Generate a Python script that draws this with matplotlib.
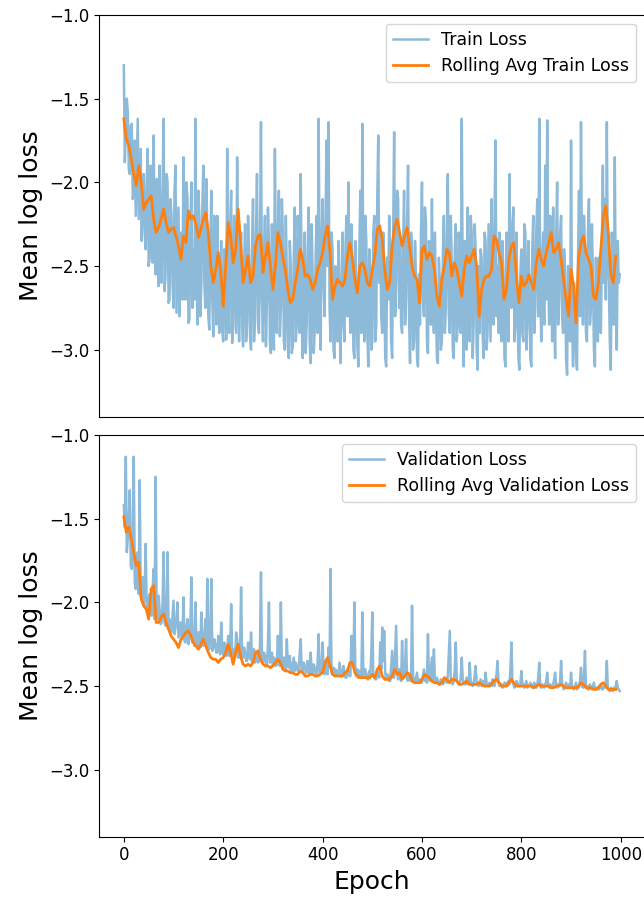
import numpy as np
import matplotlib
matplotlib.use('Agg')
import matplotlib.pyplot as plt

train_loss = [
    -1.30, -1.88, -1.72, -1.50, -1.58, -1.92, -1.95, -1.66, -1.65, -2.10, -2.05, -1.75, -2.20, -1.92, -1.62, -2.22, -2.00, -1.80, -2.35, -2.05,
    -1.95, -2.30, -2.40, -2.00, -1.80, -2.50, -2.45, -1.90, -2.10, -2.48, -1.72, -2.35, -2.55, -1.98, -2.25, -2.62, -1.90, -2.40, -2.60, -2.05,
    -1.62, -2.65, -2.55, -1.95, -2.00, -2.72, -2.70, -2.10, -2.20, -2.60, -2.75, -2.05, -1.90, -2.78, -2.45, -2.15, -2.80, -2.40, -2.30, -2.70,
    -1.85, -2.55, -2.70, -2.00, -2.10, -2.84, -2.82, -2.25, -2.00, -2.75, -2.40, -2.70, -1.62, -2.45, -2.85, -2.05, -2.20, -2.80, -2.60, -2.15,
    -1.90, -2.60, -2.75, -1.98, -2.30, -2.80, -2.88, -2.40, -2.05, -2.70, -2.92, -2.20, -2.45, -2.85, -2.20, -2.65, -2.90, -2.55, -2.35, -2.88,
    -2.95, -2.40, -2.60, -2.94, -1.80, -2.70, -2.90, -2.25, -2.05, -2.96, -2.85, -2.20, -2.55, -2.90, -1.85, -2.60, -2.95, -2.45, -2.30, -2.85,
    -2.98, -2.50, -2.25, -2.95, -2.85, -2.20, -2.45, -2.92, -3.00, -2.40, -2.10, -2.95, -2.80, -2.30, -1.95, -2.85, -2.90, -2.35, -1.64, -2.70,
    -2.95, -2.45, -2.20, -2.98, -2.70, -2.15, -2.35, -2.96, -3.02, -2.25, -2.60, -3.00, -1.80, -2.50, -2.90, -2.30, -2.05, -2.92, -2.75, -2.10,
    -2.30, -2.95, -3.00, -2.20, -2.55, -2.98, -3.05, -2.35, -2.50, -3.02, -2.98, -2.45, -2.15, -2.95, -2.85, -2.20, -2.40, -2.90, -1.95, -2.70,
    -3.05, -2.60, -2.30, -3.02, -2.85, -2.40, -2.15, -2.95, -3.08, -2.25, -2.55, -3.02, -2.90, -2.45, -2.20, -2.90, -1.62, -2.50, -3.00, -2.35,
    -2.10, -2.60, -2.80, -2.20, -1.75, -2.50, -1.64, -2.75, -2.95, -2.30, -2.40, -3.00, -3.05, -2.50, -2.70, -2.95, -2.35, -2.80, -3.08, -2.60,
    -2.30, -2.85, -2.95, -2.40, -2.20, -2.80, -2.00, -2.70, -2.90, -2.25, -2.45, -3.00, -3.05, -2.35, -2.60, -2.98, -3.10, -2.40, -2.05, -2.90,
    -1.65, -2.55, -2.95, -2.20, -2.35, -2.90, -3.10, -2.40, -2.55, -3.00, -2.95, -2.30, -2.20, -2.95, -2.85, -2.10, -1.72, -2.60, -2.30, -2.80,
    -2.90, -2.30, -2.50, -3.05, -3.10, -2.45, -2.70, -2.20, -2.40, -2.95, -3.05, -2.30, -1.70, -2.80, -2.60, -2.05, -2.10, -2.75, -2.35, -2.85,
    -2.90, -2.40, -2.05, -2.85, -2.70, -2.25, -1.90, -2.80, -3.08, -2.30, -2.40, -3.00, -2.95, -2.35, -2.60, -3.05, -3.10, -2.55, -2.85, -2.30,
    -2.00, -2.70, -2.80, -2.15, -2.25, -2.95, -3.02, -2.35, -2.40, -2.85, -2.10, -2.75, -2.90, -2.30, -2.70, -3.05, -3.08, -2.45, -2.60, -3.00,
    -2.95, -2.45, -2.20, -2.90, -2.75, -2.30, -1.95, -2.80, -2.90, -2.20, -2.50, -3.00, -3.05, -2.40, -2.25, -2.95, -2.85, -2.30, -2.45, -2.90,
    -1.62, -2.60, -3.10, -2.35, -2.55, -3.00, -2.15, -2.75, -2.95, -2.20, -2.30, -3.05, -2.85, -2.25, -2.40, -3.00, -3.12, -2.50, -2.90, -2.40,
    -2.45, -2.90, -3.05, -2.30, -2.35, -3.00, -2.90, -2.25, -2.60, -2.95, -2.10, -2.70, -2.85, -2.20, -1.75, -2.80, -2.50, -2.90, -2.30, -2.85,
    -2.95, -2.35, -2.55, -3.05, -3.10, -2.30, -2.40, -2.95, -1.95, -2.60, -2.75, -2.25, -2.15, -2.95, -2.85, -2.30, -2.70, -3.05, -3.12, -2.55,
    -2.40, -2.90, -2.95, -2.25, -2.30, -3.00, -2.85, -2.35, -2.60, -3.05, -3.10, -2.40, -2.20, -2.90, -2.75, -2.30, -2.10, -2.80, -1.62, -2.60,
    -2.95, -2.45, -2.30, -2.85, -1.90, -2.70, -1.63, -2.55, -2.85, -2.20, -2.50, -2.95, -2.15, -2.80, -3.05, -2.35, -2.00, -2.85, -2.70, -2.30,
    -2.20, -2.80, -2.90, -2.40, -2.55, -3.05, -3.15, -2.50, -2.80, -2.95, -1.75, -2.85, -3.10, -2.60, -2.90, -3.05, -3.12, -2.45, -2.05, -2.80,
    -1.64, -2.50, -2.85, -2.20, -2.40, -2.90, -2.95, -2.30, -2.10, -2.85, -2.75, -2.25, -2.55, -3.00, -3.10, -2.45, -2.80, -2.95, -2.45, -2.85,
    -2.90, -2.40, -1.90, -2.60, -2.10, -2.70, -1.64, -2.50, -2.60, -2.95, -3.12, -2.30, -2.45, -2.85, -1.85, -2.70, -3.00, -2.35, -2.60, -2.55,
]

val_loss = [
    -1.42, -1.55, -1.13, -1.70, -1.62, -1.50, -1.33, -1.78, -1.80, -1.60, -1.13, -1.88, -1.92, -1.75, -1.70, -1.95, -1.27, -1.96, -1.98, -1.85,
    -2.02, -1.90, -1.65, -2.04, -2.05, -1.98, -1.95, -2.07, -2.08, -1.92, -1.80, -2.10, -1.25, -2.06, -2.10, -1.96, -2.05, -2.13, -2.12, -2.00,
    -1.70, -2.12, -2.14, -2.05, -1.70, -2.16, -2.10, -2.17, -2.18, -2.08, -1.99, -2.19, -2.15, -2.10, -2.00, -2.21, -2.20, -2.12, -2.17, -2.22,
    -1.97, -2.23, -2.24, -2.15, -2.10, -2.25, -2.22, -2.12, -1.85, -2.24, -2.20, -2.26, -2.00, -2.22, -2.26, -2.18, -2.18, -2.27, -2.06, -2.25,
    -2.26, -2.20, -2.10, -2.27, -1.86, -2.25, -2.28, -2.18, -1.86, -2.29, -2.27, -2.22, -2.25, -2.30, -2.30, -2.20, -2.28, -2.31, -2.12, -2.29,
    -2.31, -2.24, -2.26, -2.32, -2.30, -2.20, -2.32, -2.28, -2.01, -2.31, -2.28, -2.33, -2.32, -2.18, -2.22, -2.33, -2.33, -2.26, -1.91, -2.32,
    -2.33, -2.27, -2.30, -2.35, -2.35, -2.24, -2.28, -2.34, -2.18, -2.36, -2.34, -2.28, -2.36, -2.32, -2.30, -2.36, -2.35, -2.26, -1.82, -2.35,
    -2.36, -2.30, -2.32, -2.37, -2.37, -2.25, -2.00, -2.36, -2.35, -2.30, -2.38, -2.33, -2.34, -2.38, -2.37, -2.20, -2.33, -2.38, -2.00, -2.37,
    -2.39, -2.33, -2.36, -2.40, -2.22, -2.38, -2.39, -2.32, -2.40, -2.41, -2.37, -2.33, -2.41, -2.36, -2.38, -2.41, -2.40, -2.30, -2.22, -2.41,
    -2.41, -2.36, -2.38, -2.42, -2.42, -2.35, -2.40, -2.43, -2.30, -2.41, -2.42, -2.37, -2.39, -2.43, -2.43, -2.36, -2.19, -2.42, -2.42, -2.38,
    -2.24, -2.40, -2.43, -2.35, -2.40, -2.43, -2.27, -2.38, -1.80, -2.42, -2.43, -2.39, -2.44, -2.40, -2.41, -2.44, -2.44, -2.36, -2.40, -2.44,
    -2.44, -2.38, -2.42, -2.45, -2.45, -2.40, -2.41, -2.44, -2.44, -2.20, -2.30, -2.38, -2.00, -2.43, -2.44, -2.40, -2.45, -2.41, -2.42, -2.45,
    -2.06, -2.42, -2.45, -2.40, -2.43, -2.46, -2.46, -2.41, -2.44, -2.30, -2.06, -2.44, -2.45, -2.46, -2.46, -2.42, -2.43, -2.45, -2.24, -2.40,
    -2.15, -2.35, -2.17, -2.42, -2.46, -2.43, -2.44, -2.47, -2.47, -2.38, -2.29, -2.45, -2.45, -2.30, -2.14, -2.42, -2.46, -2.40, -2.44, -2.47,
    -2.23, -2.43, -2.45, -2.38, -2.22, -2.46, -2.47, -2.43, -2.46, -2.47, -2.02, -2.44, -2.47, -2.48, -2.45, -2.42, -2.48, -2.46, -2.46, -2.48,
    -2.48, -2.44, -2.40, -2.47, -2.46, -2.48, -2.19, -2.45, -2.47, -2.40, -2.33, -2.46, -2.28, -2.47, -2.48, -2.45, -2.47, -2.49, -2.49, -2.46,
    -2.47, -2.49, -2.48, -2.45, -2.46, -2.48, -2.44, -2.30, -2.17, -2.47, -2.48, -2.49, -2.47, -2.40, -2.24, -2.46, -2.48, -2.49, -2.49, -2.45,
    -2.33, -2.46, -2.48, -2.49, -2.49, -2.45, -2.47, -2.49, -2.36, -2.47, -2.49, -2.50, -2.48, -2.44, -2.38, -2.48, -2.49, -2.50, -2.48, -2.46,
    -2.50, -2.47, -2.49, -2.50, -2.42, -2.48, -2.50, -2.49, -2.48, -2.50, -2.50, -2.46, -2.49, -2.50, -2.47, -2.43, -2.35, -2.48, -2.50, -2.49,
    -2.49, -2.51, -2.50, -2.48, -2.48, -2.50, -2.50, -2.47, -2.49, -2.40, -2.24, -2.48, -2.49, -2.51, -2.50, -2.47, -2.48, -2.50, -2.50, -2.49,
    -2.41, -2.48, -2.50, -2.51, -2.49, -2.47, -2.51, -2.50, -2.50, -2.48, -2.49, -2.51, -2.51, -2.48, -2.50, -2.51, -2.49, -2.45, -2.36, -2.50,
    -2.51, -2.49, -2.50, -2.51, -2.49, -2.47, -2.42, -2.50, -2.51, -2.49, -2.50, -2.51, -2.49, -2.46, -2.42, -2.50, -2.51, -2.49, -2.50, -2.47,
    -2.35, -2.49, -2.51, -2.52, -2.50, -2.48, -2.51, -2.50, -2.49, -2.51, -2.42, -2.50, -2.51, -2.52, -2.50, -2.48, -2.52, -2.51, -2.51, -2.47,
    -2.39, -2.50, -2.51, -2.45, -2.29, -2.51, -2.50, -2.52, -2.52, -2.49, -2.51, -2.52, -2.50, -2.48, -2.52, -2.51, -2.51, -2.52, -2.52, -2.50,
    -2.50, -2.52, -2.52, -2.50, -2.51, -2.48, -2.35, -2.51, -2.52, -2.53, -2.51, -2.52, -2.53, -2.51, -2.52, -2.50, -2.47, -2.51, -2.52, -2.53,
]

# rolling averages, sampled every 5 epochs
train_roll = [
    -1.62, -1.74, -1.78, -1.86, -1.95, -2.02, -1.90, -2.00, -2.16, -2.12,
    -2.10, -2.08, -2.22, -2.30, -2.27, -2.22, -2.16, -2.24, -2.30, -2.28,
    -2.27, -2.32, -2.38, -2.46, -2.32, -2.36, -2.17, -2.22, -2.20, -2.25,
    -2.33, -2.28, -2.22, -2.18, -2.30, -2.50, -2.60, -2.52, -2.42, -2.53,
    -2.74, -2.50, -2.24, -2.32, -2.48, -2.40, -2.16, -2.36, -2.60, -2.52,
    -2.44, -2.60, -2.56, -2.38, -2.32, -2.31, -2.54, -2.44, -2.36, -2.50,
    -2.64, -2.50, -2.30, -2.36, -2.45, -2.52, -2.64, -2.72, -2.70, -2.60,
    -2.52, -2.40, -2.46, -2.56, -2.55, -2.58, -2.64, -2.60, -2.52, -2.48,
    -2.42, -2.32, -2.26, -2.42, -2.70, -2.62, -2.58, -2.60, -2.62, -2.58,
    -2.44, -2.36, -2.46, -2.58, -2.66, -2.50, -2.48, -2.52, -2.60, -2.62,
    -2.52, -2.44, -2.28, -2.26, -2.34, -2.52, -2.64, -2.60, -2.38, -2.26,
    -2.22, -2.30, -2.38, -2.32, -2.27, -2.38, -2.50, -2.56, -2.58, -2.72,
    -2.40, -2.38, -2.46, -2.42, -2.44, -2.52, -2.68, -2.74, -2.58, -2.50,
    -2.40, -2.42, -2.56, -2.48, -2.52, -2.60, -2.68, -2.52, -2.44, -2.48,
    -2.44, -2.40, -2.50, -2.80, -2.64, -2.58, -2.56, -2.56, -2.52, -2.32,
    -2.34, -2.42, -2.48, -2.70, -2.64, -2.46, -2.38, -2.36, -2.56, -2.72,
    -2.56, -2.62, -2.60, -2.55, -2.60, -2.64, -2.48, -2.40, -2.46, -2.50,
    -2.42, -2.36, -2.30, -2.42, -2.40, -2.36, -2.46, -2.58, -2.70, -2.80,
    -2.52, -2.62, -2.84, -2.46, -2.36, -2.32, -2.42, -2.46, -2.50, -2.68,
    -2.70, -2.60, -2.40, -2.20, -2.14, -2.30, -2.56, -2.60, -2.44,
]

val_roll = [
    -1.49, -1.58, -1.55, -1.62, -1.70, -1.78, -1.76, -1.98, -2.02, -2.04,
    -2.10, -1.92, -1.90, -2.12, -2.12, -2.09, -2.07, -2.12, -2.16, -2.20,
    -2.22, -2.24, -2.27, -2.22, -2.20, -2.18, -2.17, -2.20, -2.24, -2.26,
    -2.28, -2.25, -2.22, -2.26, -2.30, -2.33, -2.34, -2.34, -2.36, -2.34,
    -2.33, -2.30, -2.25, -2.30, -2.37, -2.30, -2.25, -2.32, -2.37, -2.38,
    -2.37, -2.38, -2.36, -2.30, -2.29, -2.34, -2.37, -2.38, -2.38, -2.39,
    -2.38, -2.36, -2.34, -2.36, -2.40, -2.41, -2.41, -2.42, -2.42, -2.43,
    -2.43, -2.41, -2.42, -2.44, -2.44, -2.43, -2.43, -2.44, -2.44, -2.43,
    -2.42, -2.36, -2.33, -2.38, -2.43, -2.44, -2.44, -2.44, -2.44, -2.42,
    -2.41, -2.36, -2.36, -2.42, -2.44, -2.45, -2.45, -2.45, -2.45, -2.45,
    -2.43, -2.45, -2.40, -2.38, -2.44, -2.46, -2.46, -2.46, -2.44, -2.40,
    -2.43, -2.42, -2.46, -2.44, -2.42, -2.43, -2.47, -2.48, -2.48, -2.48,
    -2.46, -2.43, -2.44, -2.45, -2.47, -2.48, -2.48, -2.49, -2.48, -2.45,
    -2.46, -2.48, -2.46, -2.46, -2.47, -2.49, -2.49, -2.48, -2.47, -2.49,
    -2.49, -2.49, -2.49, -2.48, -2.49, -2.50, -2.50, -2.50, -2.49, -2.47,
    -2.46, -2.48, -2.50, -2.50, -2.50, -2.48, -2.46, -2.48, -2.50, -2.50,
    -2.50, -2.50, -2.50, -2.50, -2.50, -2.51, -2.50, -2.49, -2.50, -2.50,
    -2.50, -2.50, -2.51, -2.51, -2.50, -2.50, -2.49, -2.50, -2.51, -2.51,
    -2.51, -2.51, -2.51, -2.50, -2.48, -2.49, -2.51, -2.51, -2.51, -2.52,
    -2.52, -2.51, -2.49, -2.48, -2.50, -2.52, -2.52, -2.52, -2.52,
]

raw_step = 2
roll_step = 5

epochs_train = np.arange(len(train_loss)) * raw_step
epochs_val = np.arange(len(val_loss)) * raw_step
epochs_troll = np.arange(len(train_roll)) * roll_step
epochs_vroll = np.arange(len(val_roll)) * roll_step

fig = plt.figure(figsize=(6.44, 8.98), dpi=100)
ax1 = fig.add_axes([0.1537, 0.536, 0.848, 0.4473])
ax2 = fig.add_axes([0.1537, 0.0683, 0.848, 0.4473])

ax1.plot(epochs_train, train_loss, color='C0', alpha=0.5, linewidth=1.8, label='Train Loss')
ax1.plot(epochs_troll, train_roll, color='C1', linewidth=2.0, label='Rolling Avg Train Loss')
ax2.plot(epochs_val, val_loss, color='C0', alpha=0.5, linewidth=1.8, label='Validation Loss')
ax2.plot(epochs_vroll, val_roll, color='C1', linewidth=2.0, label='Rolling Avg Validation Loss')

for ax in (ax1, ax2):
    ax.set_xlim(-50, 1049)
    ax.set_ylim(-3.4, -1.0)
    ax.set_yticks([-3.0, -2.5, -2.0, -1.5, -1.0])
    ax.set_xticks([0, 200, 400, 600, 800, 1000])
    ax.tick_params(labelsize=12)
    ax.set_ylabel('Mean log loss', fontsize=18)
    ax.legend(loc='upper right', fontsize=12.5)

ax1.tick_params(axis='x', bottom=False, labelbottom=False)
ax2.set_xlabel('Epoch', fontsize=18)

fig.savefig('out.png', dpi=100)
